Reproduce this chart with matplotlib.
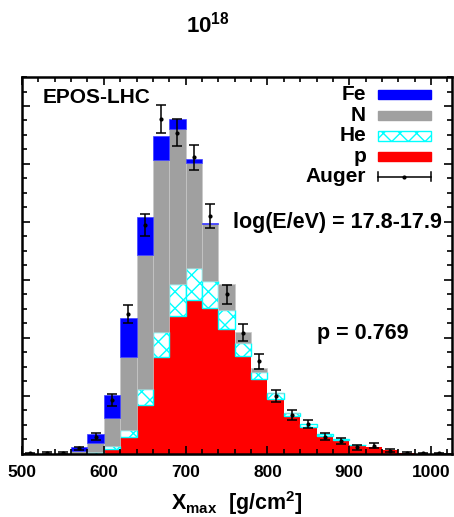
"""Xmax distribution at log(E/eV) = 17.8-17.9 compared with an EPOS-LHC composition fit."""

import matplotlib
matplotlib.use("Agg")
import matplotlib.pyplot as plt
from matplotlib.patches import Rectangle
from matplotlib.ticker import MultipleLocator
import numpy as np

plt.rcParams["font.family"] = ["Liberation Sans", "DejaVu Sans"]
plt.rcParams["font.weight"] = "bold"
plt.rcParams["axes.labelweight"] = "bold"
plt.rcParams["mathtext.fontset"] = "custom"
plt.rcParams["mathtext.rm"] = "Liberation Sans:bold"
plt.rcParams["mathtext.bf"] = "Liberation Sans:bold"
plt.rcParams["mathtext.it"] = "Liberation Sans:bold"
plt.rcParams["hatch.linewidth"] = 1.0

# histogram bins (lower edges, g/cm2) and stacked fractions per primary
bin_lo = [540, 560, 580, 600, 620, 640, 660, 680, 700, 720, 740,
          760, 780, 800, 820, 840, 860, 880, 900, 920, 940, 960]
frac_p = [0, 0, 0, 0.0016, 0.0058, 0.0168, 0.0332, 0.0475, 0.0530, 0.0501, 0.0429,
          0.0337, 0.0256, 0.0187, 0.0129, 0.0093, 0.0060, 0.0047, 0.0029, 0.0021, 0.0012, 0.0003]
frac_he = [0, 0, 0.0006, 0.0011, 0.0023, 0.0054, 0.0089, 0.0110, 0.0110, 0.0095, 0.0067,
           0.0044, 0.0024, 0.0021, 0.0010, 0.0009, 0.0006, 0.0002, 0.0001, 0, 0, 0]
frac_n = [0.0003, 0.0010, 0.0029, 0.0095, 0.0251, 0.0463, 0.0592, 0.0534, 0.0362, 0.0195, 0.0089,
          0.0037, 0.0014, 0.0002, 0.0001, 0, 0, 0, 0, 0, 0, 0]
frac_fe = [0, 0.0011, 0.0032, 0.0080, 0.0137, 0.0133, 0.0083, 0.0035, 0.0014, 0.0005, 0,
           0, 0, 0, 0, 0, 0, 0, 0, 0, 0, 0]

# Auger data (bin centres)
auger_x = [510, 530, 550, 570, 590, 610, 630, 650, 670, 690, 710, 730, 750,
           770, 790, 810, 830, 850, 870, 890, 910, 930, 950, 970, 990, 1010]
auger_y = [0.0001, 0.0002, 0.0003, 0.0018, 0.0058, 0.0185, 0.0481, 0.0789, 0.1154, 0.1108,
           0.1023, 0.0821, 0.0550, 0.0417, 0.0319, 0.0199, 0.0133, 0.0101, 0.0058, 0.0043,
           0.0021, 0.0027, 0.0010, 0.0002, 0.0001, 0.0001]
auger_err = [0.0002, 0.0002, 0.0003, 0.0006, 0.0012, 0.0021, 0.0032, 0.0038, 0.0048, 0.0046,
             0.0044, 0.0041, 0.0033, 0.0029, 0.0026, 0.0021, 0.0016, 0.0014, 0.0012, 0.0010,
             0.0008, 0.0008, 0.0006, 0.0002, 0.0002, 0.0002]

BIN_W = 20
RED = "#ff0000"
CYAN = "#00ffff"
GRAY = "#a0a0a0"
BLUE = "#0000ff"

fig = plt.figure(figsize=(4.54, 5.17), dpi=100)
ax = fig.add_axes([0.0485, 0.1228, 0.946, 0.7282])

centers = np.array(bin_lo) + BIN_W / 2
p = np.array(frac_p)
he = np.array(frac_he)
n = np.array(frac_n)
fe = np.array(frac_fe)

ax.bar(centers, p, width=BIN_W, color=RED, linewidth=0)
m = he > 0
ax.bar(centers[m], he[m], bottom=p[m], width=BIN_W, facecolor="white",
       edgecolor=CYAN, hatch="xx", linewidth=1.0)
m = n > 0
ax.bar(centers[m], n[m], bottom=(p + he)[m], width=BIN_W, color=GRAY,
       edgecolor="#c8c8c8", linewidth=0.5)
m = fe > 0
ax.bar(centers[m], fe[m], bottom=(p + he + n)[m], width=BIN_W, color=BLUE,
       edgecolor="#4040ff", linewidth=0.5)

ax.errorbar(auger_x, auger_y, yerr=auger_err, fmt="o", ms=2, color="black",
            ecolor="black", elinewidth=1.1, capsize=3.5, capthick=1.1, zorder=5)

ax.set_xlim(500, 1025)
ax.set_ylim(0, 0.13)
ax.xaxis.set_major_locator(MultipleLocator(100))
ax.xaxis.set_minor_locator(MultipleLocator(20))
ax.yaxis.set_major_locator(MultipleLocator(0.02))
ax.yaxis.set_minor_locator(MultipleLocator(0.005))
ax.tick_params(which="both", direction="in", top=True, right=True, width=1.2)
ax.tick_params(which="major", length=6)
ax.tick_params(which="minor", length=3.5)
ax.tick_params(axis="x", labelsize=12.5, pad=8)
ax.tick_params(axis="y", labelleft=False)
for s in ax.spines.values():
    s.set_linewidth(1.8)

ax.set_xlabel(r"X$_{\mathrm{max}}$  [g/cm$^{\mathrm{2}}$]", fontsize=15.5,
              fontweight="bold", labelpad=7)

# legend drawn by hand: labels right-aligned left of the samples
leg_labels = ["Fe", "N", "He", "p"]
leg_styles = [dict(facecolor=BLUE, edgecolor=BLUE),
              dict(facecolor=GRAY, edgecolor=GRAY),
              dict(facecolor="white", edgecolor=CYAN, hatch="xx"),
              dict(facecolor=RED, edgecolor=RED)]
leg_base = [0.939, 0.884, 0.829, 0.775, 0.720]
x0, x1 = 0.828, 0.952
for lab, st, yb in zip(leg_labels, leg_styles, leg_base):
    ax.text(0.801, yb, lab, transform=ax.transAxes, ha="right", va="baseline", fontsize=15)
    ax.add_patch(Rectangle((x0, yb + 0.002), x1 - x0, 0.025, transform=ax.transAxes,
                           linewidth=1.0, **st))
ya = leg_base[4] + 0.015
ax.text(0.801, leg_base[4], "Auger", transform=ax.transAxes, ha="right", va="baseline", fontsize=15)
ax.plot([x0, x1], [ya, ya], color="black", lw=1.1, transform=ax.transAxes)
for xe in (x0, x1):
    ax.plot([xe, xe], [ya - 0.012, ya + 0.012], color="black", lw=1.1, transform=ax.transAxes)
ax.plot([(x0 + x1) / 2], [ya], "o", ms=2, color="black", transform=ax.transAxes)

ax.text(0.049, 0.932, "EPOS-LHC", transform=ax.transAxes, ha="left", va="baseline", fontsize=15)
ax.text(0.977, 0.598, "log(E/eV) = 17.8-17.9", transform=ax.transAxes, ha="right",
        va="baseline", fontsize=15.5)
ax.text(0.686, 0.303, "p = 0.769", transform=ax.transAxes, ha="left", va="baseline", fontsize=15.5)

fig.text(0.458, 0.9375, r"10$^{\mathrm{18}}$", ha="center", va="baseline", fontsize=16)

fig.savefig("out.png", dpi=100)
plt.close(fig)
